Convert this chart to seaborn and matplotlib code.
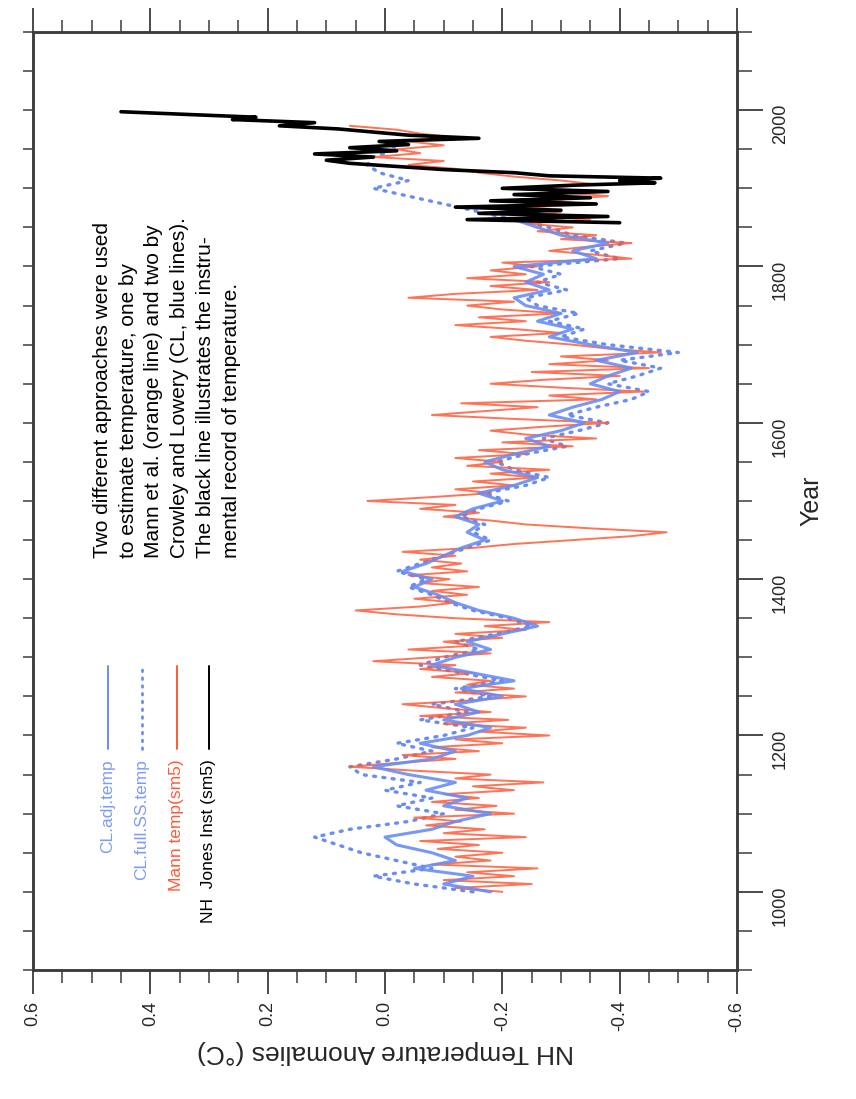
import numpy as np
import matplotlib
matplotlib.use("Agg")
import matplotlib.pyplot as plt
import seaborn as sns
from matplotlib.ticker import MultipleLocator

# ---- values ----
# Mann et al. (sm5), every 5 years 1000-1980
mann_years = np.arange(1000, 1981, 5)
mann_temp = [
    -0.20, -0.12, -0.25, -0.10, -0.22, -0.14, -0.26, -0.08, -0.18, -0.12,   # 1000-1045
    -0.20, -0.09, -0.16, -0.06, -0.24, -0.10, -0.17, -0.07, -0.13, -0.05,   # 1050-1095
    -0.22, -0.12, -0.19, -0.08, -0.16, -0.10, -0.22, -0.15, -0.27, -0.12,   # 1100-1145
    -0.18, -0.05, 0.06, -0.02, -0.12, -0.03, -0.16, -0.08, -0.20, -0.12,    # 1150-1195
    -0.28, -0.16, -0.24, -0.10, -0.21, -0.06, -0.18, -0.10, -0.03, -0.15,   # 1200-1245
    -0.24, -0.12, -0.22, -0.14, -0.18, -0.08, -0.15, -0.06, -0.12, 0.02,    # 1250-1295
    -0.08, -0.18, -0.04, -0.15, -0.10, -0.20, -0.12, -0.24, -0.17, -0.28,   # 1300-1345
    -0.12, -0.02, 0.05, -0.06, -0.12, -0.05, -0.14, -0.08, -0.16, -0.06,    # 1350-1395
    -0.11, -0.04, -0.14, -0.08, -0.13, -0.06, -0.12, -0.03, -0.15, -0.22,   # 1400-1445
    -0.32, -0.42, -0.48, -0.35, -0.24, -0.18, -0.10, -0.16, -0.06, -0.12,   # 1450-1495
    0.03, -0.08, -0.18, -0.12, -0.22, -0.15, -0.26, -0.18, -0.28, -0.14,    # 1500-1545
    -0.20, -0.12, -0.24, -0.16, -0.32, -0.20, -0.36, -0.24, -0.18, -0.27,   # 1550-1595
    -0.38, -0.22, -0.08, -0.17, -0.26, -0.13, -0.36, -0.28, -0.44, -0.30,   # 1600-1645
    -0.18, -0.27, -0.40, -0.25, -0.45, -0.28, -0.38, -0.30, -0.47, -0.38,   # 1650-1695
    -0.32, -0.24, -0.18, -0.30, -0.22, -0.12, -0.24, -0.16, -0.30, -0.20,   # 1700-1745
    -0.14, -0.22, -0.04, -0.12, -0.26, -0.18, -0.28, -0.14, -0.24, -0.18,   # 1750-1795
    -0.26, -0.20, -0.42, -0.36, -0.28, -0.34, -0.42, -0.30, -0.36, -0.26,   # 1800-1845
    -0.32, -0.24, -0.35, -0.26, -0.30, -0.24, -0.34, -0.28, -0.38, -0.30,   # 1850-1895
    -0.26, -0.36, -0.30, -0.22, -0.16, -0.12, -0.04, -0.10, 0.02, -0.06,    # 1900-1945
    -0.02, -0.10, -0.04, -0.12, -0.06, -0.02, 0.06,                         # 1950-1980
]

# Crowley & Lowery, adjusted (solid blue), every 10 years 1000-1860
cl_adj_years = np.arange(1000, 1861, 10)
cl_adj_temp = [
    -0.18, -0.10, -0.15, -0.05, -0.12, -0.08, -0.02, 0.00, -0.08, -0.12,
    -0.18, -0.10, -0.14, -0.07, -0.12, -0.04, 0.02, -0.08, -0.12, -0.06,
    -0.14, -0.18, -0.10, -0.16, -0.12, -0.20, -0.13, -0.22, -0.15, -0.08,
    -0.12, -0.18, -0.14, -0.20, -0.26, -0.22, -0.16, -0.12, -0.09, -0.05,
    -0.08, -0.03, -0.07, -0.10, -0.13, -0.17, -0.14, -0.16, -0.12, -0.15,
    -0.20, -0.16, -0.22, -0.26, -0.20, -0.17, -0.22, -0.28, -0.24, -0.30,
    -0.34, -0.28, -0.32, -0.37, -0.40, -0.35, -0.38, -0.42, -0.36, -0.43,
    -0.35, -0.28, -0.32, -0.26, -0.30, -0.24, -0.22, -0.28, -0.24, -0.27,
    -0.22, -0.36, -0.32, -0.38, -0.30, -0.26, -0.22,
]

# Crowley & Lowery, full SS (dotted blue), every 10 years 1000-1960
cl_full_years = np.arange(1000, 1961, 10)
cl_full_temp = [
    -0.15, -0.05, 0.02, -0.08, -0.02, 0.04, 0.08, 0.12, 0.06, -0.04,
    -0.10, -0.02, -0.08, 0.00, -0.06, 0.04, 0.06, -0.02, -0.08, -0.02,
    -0.10, -0.15, -0.06, -0.14, -0.08, -0.18, -0.12, -0.20, -0.13, -0.06,
    -0.10, -0.16, -0.12, -0.19, -0.25, -0.21, -0.15, -0.11, -0.08, -0.04,
    -0.07, -0.02, -0.06, -0.10, -0.14, -0.18, -0.15, -0.17, -0.13, -0.16,
    -0.21, -0.17, -0.24, -0.28, -0.22, -0.19, -0.24, -0.31, -0.27, -0.33,
    -0.38, -0.31, -0.36, -0.42, -0.45, -0.38, -0.43, -0.47, -0.40, -0.50,
    -0.38, -0.30, -0.34, -0.28, -0.33, -0.26, -0.24, -0.31, -0.26, -0.30,
    -0.25, -0.40, -0.35, -0.41, -0.32, -0.28, -0.22, -0.16, -0.10, -0.04,
    0.02, -0.04, 0.01, 0.03, 0.02, -0.02, 0.00,
]

# NH Jones instrumental (sm5)
jones_years = [
    1856, 1860, 1864, 1868, 1872, 1876, 1880, 1884, 1888, 1892,
    1896, 1900, 1904, 1907, 1910, 1913, 1916, 1920, 1924, 1928,
    1932, 1936, 1940, 1944, 1948, 1952, 1956, 1960, 1964, 1968,
    1972, 1976, 1980, 1984, 1988, 1991, 1994, 1998,
]
jones_temp = [
    -0.40, -0.14, -0.38, -0.16, -0.30, -0.12, -0.36, -0.18, -0.35, -0.22,
    -0.38, -0.20, -0.32, -0.46, -0.40, -0.47, -0.28, -0.22, -0.10, -0.02,
    0.06, 0.10, 0.02, 0.12, -0.02, 0.06, -0.04, 0.01, -0.16, -0.04,
    0.02, 0.08, 0.18, 0.12, 0.26, 0.22, 0.32, 0.45,
]

temp_ticks = [0.6, 0.4, 0.2, 0.0, -0.2, -0.4, -0.6]
temp_tick_labels = ["0.6", "0.4", "0.2", "0.0", "-0.2", "-0.4", "-0.6"]
year_ticks = [1000, 1200, 1400, 1600, 1800, 2000]
year_tick_labels = ["1000", "1200", "1400", "1600", "1800", "2000"]

legend_labels = ["CL.adj.temp", "CL.full.SS.temp", "Mann temp(sm5)", "NH  Jones Inst (sm5)"]
note = ("Two different approaches were used\n"
        "to estimate temperature, one by\n"
        "Mann et al. (orange line) and two by\n"
        "Crowley and Lowery (CL, blue lines).\n"
        "The black line illustrates the instru-\n"
        "mental record of temperature.")

BLUE = "#6a8df2"
ORANGE = "#ff5a38"
FRAME = "#3c3c3c"

sns.set_theme(style="ticks")
plt.rcParams["font.family"] = ["Liberation Sans", "DejaVu Sans"]

fig = plt.figure(figsize=(8.56, 10.99), dpi=100)
ax = fig.add_axes([33 / 856, 1 - 970 / 1099, 704 / 856, 938 / 1099])

# the chart is drawn turned on its side: temperature runs along x, years up y
sns.lineplot(x=cl_full_temp, y=cl_full_years, orient="y", estimator=None, ax=ax,
             color=BLUE, lw=2.4, linestyle=(0, (0.6, 2.2)), dash_capstyle="round")
sns.lineplot(x=mann_temp, y=mann_years, orient="y", estimator=None, ax=ax,
             color=ORANGE, lw=1.4, alpha=0.85)
sns.lineplot(x=cl_adj_temp, y=cl_adj_years, orient="y", estimator=None, ax=ax,
             color=BLUE, lw=2.2, alpha=0.9)
sns.lineplot(x=jones_temp, y=jones_years, orient="y", estimator=None, ax=ax,
             color="black", lw=2.6)

ax.set_xlim(0.6, -0.6)
ax.set_ylim(900, 2100)

# bottom / top: temperature
ax.set_xticks(temp_ticks, labels=temp_tick_labels)
ax.xaxis.set_minor_locator(MultipleLocator(0.05))
ax.tick_params(axis="x", which="major", direction="out", length=17, width=1.3,
               top=True, bottom=True, labelrotation=90, labelsize=13, pad=5,
               color=FRAME)
ax.tick_params(axis="x", which="minor", direction="out", length=9, width=1.1,
               top=True, bottom=True, color=FRAME)
ax.set_xlabel("NH Temperature Anomalies (°C)", rotation=180, fontsize=19, labelpad=6)

# left: short ticks every 50 years, no labels
ax.yaxis.set_major_locator(MultipleLocator(50))
ax.tick_params(axis="y", which="both", direction="out", length=7, width=1.1,
               left=True, right=False, labelleft=False, color=FRAME)
ax.set_ylabel("")

# right: year scale
axr = ax.twinx()
axr.set_ylim(900, 2100)
axr.set_yticks(year_ticks, labels=year_tick_labels)
axr.yaxis.set_minor_locator(MultipleLocator(50))
axr.tick_params(axis="y", which="major", direction="out", length=19, width=1.3,
                labelrotation=90, labelsize=13, pad=6, color=FRAME)
axr.tick_params(axis="y", which="minor", direction="out", length=11, width=1.1,
                color=FRAME)
axr.set_ylabel("Year", rotation=90, fontsize=18, labelpad=8)

for a in (ax, axr):
    for sp in a.spines.values():
        sp.set_color(FRAME)
        sp.set_linewidth(1.8)

# hand-made legend, turned like the rest of the chart
leg_x = [0.1065, 0.1548, 0.2045, 0.25]
leg_colors = [BLUE, BLUE, ORANGE, "black"]
leg_styles = ["-", (0, (0.6, 2.2)), "-", "-"]
for xf, lab, c, st in zip(leg_x, legend_labels, leg_colors, leg_styles):
    ax.text(xf, 0.225, lab, transform=ax.transAxes, rotation=90,
            rotation_mode="anchor", ha="right", va="center", fontsize=12.5,
            color=c if c != BLUE else "#7d9cf4")
    ax.plot([xf, xf], [0.236, 0.324], transform=ax.transAxes, color=c,
            lw=2.0 if st != "-" else 1.4, linestyle=st, dash_capstyle="round")

ax.text(0.085, 0.439, note, transform=ax.transAxes, rotation=90,
        rotation_mode="anchor", ha="left", va="top", fontsize=15,
        linespacing=1.45, color="black")

fig.savefig("out.png", dpi=100, facecolor="white")
